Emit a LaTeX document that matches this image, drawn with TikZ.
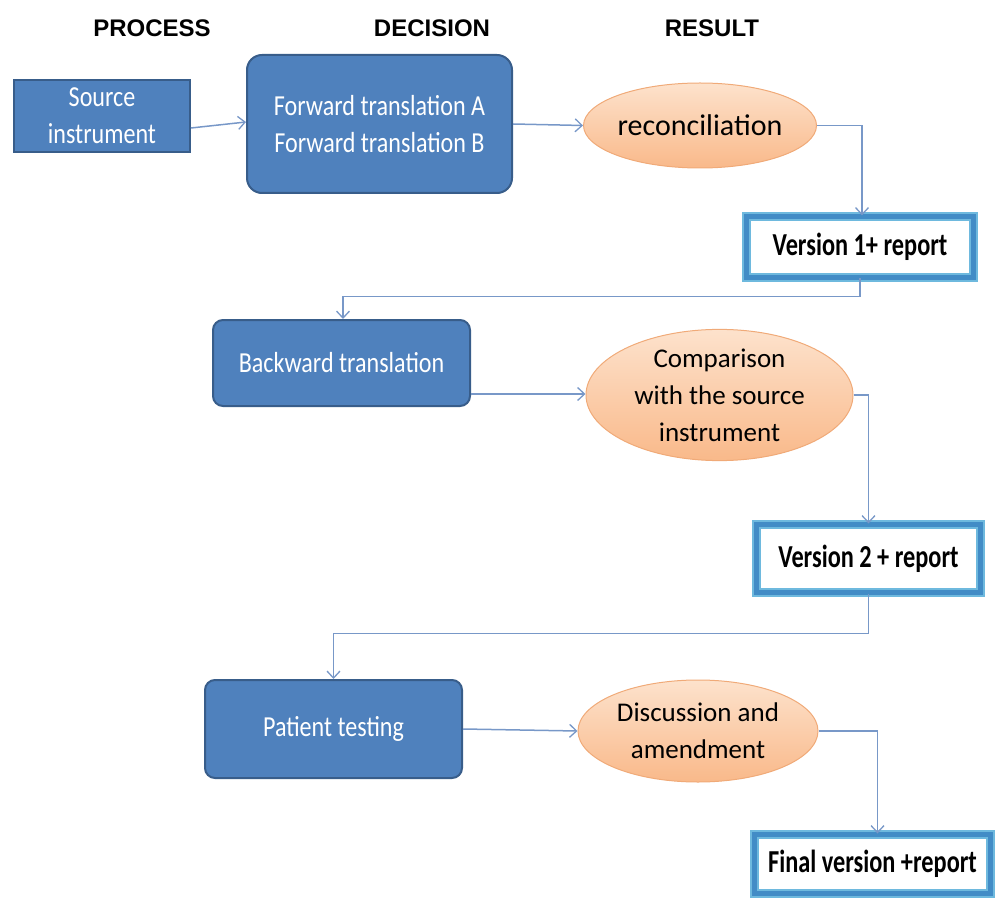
\documentclass[tikz,border=0pt]{standalone}
\usepackage{fontspec}
\setmainfont{Carlito}
\newfontfamily\headfont{Liberation Sans}
\newfontfamily\boxfont{Carlito}[FakeStretch=0.83]
\newfontfamily\verfont{Carlito}[FakeStretch=0.76]
\usepackage{tikz}
\usetikzlibrary{arrows.meta,shapes.geometric}
\definecolor{procblue}{RGB}{79,129,189}
\definecolor{procedge}{RGB}{56,93,138}
\definecolor{peachtop}{RGB}{253,226,204}
\definecolor{peachbot}{RGB}{249,185,138}
\definecolor{peachedge}{RGB}{240,170,120}
\definecolor{veredge}{RGB}{110,185,222}
\definecolor{vermid}{RGB}{66,140,198}
\definecolor{linkblue}{RGB}{120,152,200}

\begin{document}
\begin{tikzpicture}[x=10pt,y=10pt]
\tikzstyle{every node}+=[inner sep=0pt]
\tikzstyle{head}=[font=\headfont\bfseries\fontsize{24}{28}\selectfont]
\tikzstyle{proc}=[rectangle, fill=procblue, draw=procedge, line width=2pt, text=white, align=center, font=\boxfont\fontsize{29}{37}\selectfont]
\tikzstyle{res}=[ellipse, top color=peachtop, bottom color=peachbot, draw=peachedge, line width=1pt, align=center, font=\fontsize{27}{37}\selectfont]
\tikzstyle{ver}=[rectangle, fill=white, draw=veredge, line width=2pt, double=vermid, double distance=5pt, font=\verfont\bfseries\fontsize{32}{36}\selectfont]
\tikzstyle{link}=[draw=linkblue, line width=1.5pt, -{Straight Barb[length=7pt,width=13pt,line width=1.3pt]}]
\useasboundingbox (0,0) rectangle (100.1,-90.1);

% column heads
\node[head] (hproc) at (15.2,-2.8) {PROCESS};
\node[head] (hdec) at (43.2,-2.8) {DECISION};
\node[head] (hres) at (71.2,-2.8) {RESULT};

% first row
\node[proc, minimum width=176pt, minimum height=72pt] (src) at (10.2,-11.6) {Source\\instrument};
\node[proc, rounded corners=15pt, minimum width=265pt, minimum height=138pt] (fwd) at (37.95,-12.4) {Forward translation A\\Forward translation B};
\node[res, minimum width=230pt, minimum height=85pt, font=\fontsize{30}{37}\selectfont] (rec) at (70.0,-12.55) {reconciliation};
\node[ver, minimum width=227pt, minimum height=61pt] (v1) at (86.0,-24.7) {Version 1+ report};

% second row
\node[proc, rounded corners=10pt, minimum width=257pt, minimum height=86pt] (back) at (34.15,-36.3) {Backward translation};
\node[res, minimum width=267pt, minimum height=100pt] (cmp) at (71.95,-39.5) {Comparison\\with the source\\instrument};
\node[ver, minimum width=224pt, minimum height=68pt] (v2) at (86.85,-55.85) {Version 2 + report};

% third row
\node[proc, rounded corners=10pt, minimum width=257pt, minimum height=98pt] (pat) at (33.35,-72.9) {Patient testing};
\node[res, minimum width=240pt, minimum height=102pt] (dis) at (69.8,-73.1) {Discussion and\\amendment};
\node[ver, minimum width=236pt, minimum height=59pt] (fin) at (87.25,-86.4) {Final version +report};

% connectors
\draw[link] ([yshift=-12pt]src.east) -- ([yshift=2pt]fwd.west);
\draw[link] (fwd.east) -- (rec.west);
\draw[link] (rec.east) -| ([xshift=2pt]v1.north);
\draw[link] (v1.south) -- ++(0,-1.8) -| ([xshift=1.5pt]back.north);
\coordinate (bc) at ([yshift=13pt]back.south east);
\draw[link] (bc) -- (bc -| cmp.west);
\draw[link] (cmp.east) -| (v2.north);
\draw[link] (v2.south) -- ++(0,-4.0) -| (pat.north);
\draw[link] (pat.east) -- (dis.west);
\draw[link] (dis.east) -| ([xshift=5pt]fin.north);
\end{tikzpicture}
\end{document}
